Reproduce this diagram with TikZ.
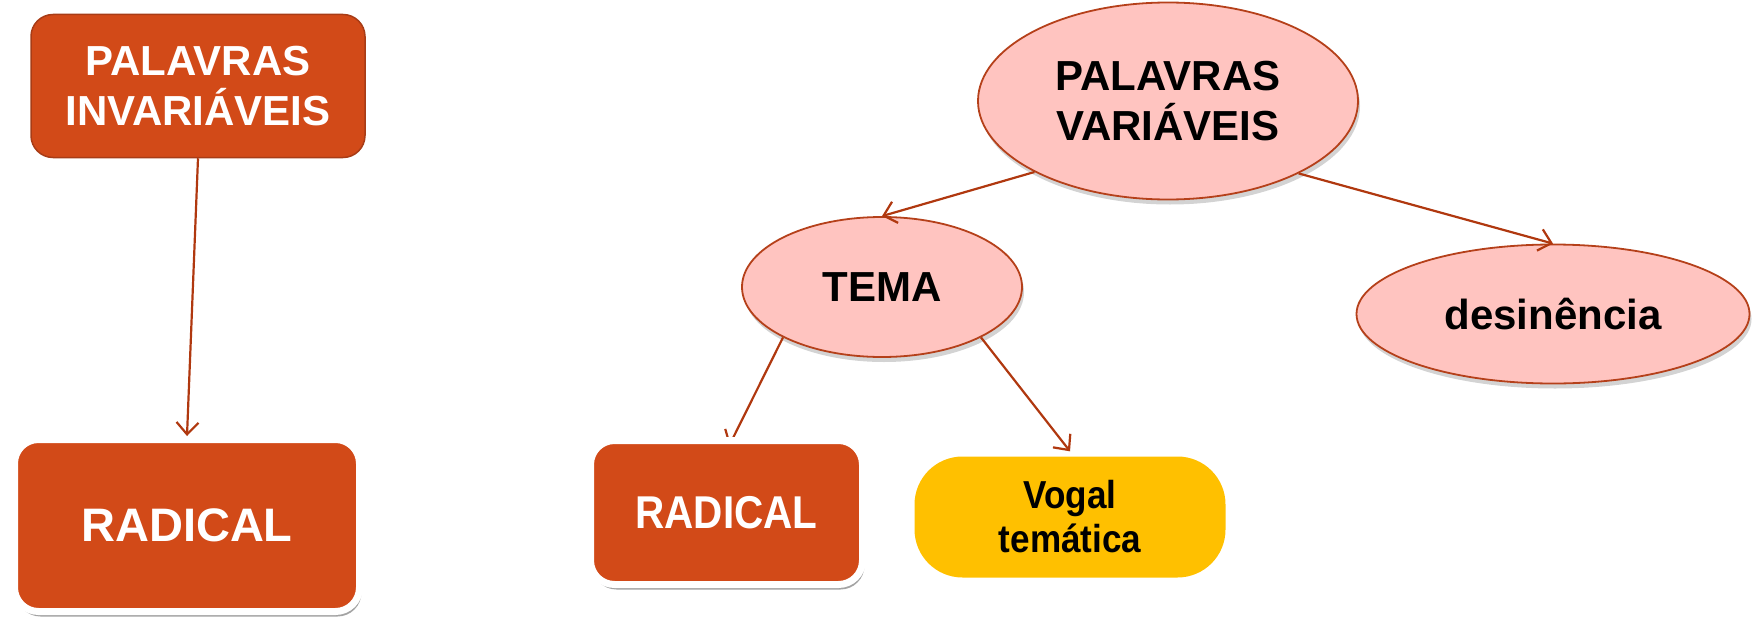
\documentclass[tikz,border=0pt]{standalone}
\usepackage{fontspec}
\setmainfont{Liberation Sans}
\usetikzlibrary{shapes.geometric,arrows.meta,shadows}
\definecolor{boxorange}{HTML}{D24A18}
\definecolor{boxedge}{HTML}{A83C16}
\definecolor{linecol}{HTML}{B0380F}
\definecolor{pinkfill}{HTML}{FFC4C0}
\definecolor{pinkedge}{HTML}{B5401A}
\definecolor{vogalcol}{HTML}{FFC000}
\tikzset{
  orangebox/.style={rectangle, rounded corners=22pt, fill=boxorange, draw=boxedge, line width=1.5pt, text=white, font=\bfseries\fontsize{42}{50}\selectfont, align=center, inner sep=0pt},
  whiteframed/.style={rectangle, rounded corners=24pt, fill=boxorange, draw=white, line width=7pt, text=white, inner sep=0pt,
    drop shadow={opacity=0.6, shadow xshift=2pt, shadow yshift=-5pt, fill=black!60}},
  pinkell/.style={ellipse, fill=pinkfill, draw=pinkedge, line width=1.8pt, inner sep=0pt, text=black, font=\bfseries\fontsize{42}{50}\selectfont, align=center,
    drop shadow={opacity=0.35, shadow xshift=2pt, shadow yshift=-5pt}},
  vogalbox/.style={rectangle, rounded corners=48pt, fill=vogalcol, inner sep=0pt, text=black, align=center},
  conn/.style={draw=linecol, line width=2.2pt, -{Straight Barb[length=12pt,width=22pt,line width=2.2pt]}},
}
\begin{document}
\begin{tikzpicture}[x=1pt,y=-1pt]
\useasboundingbox (0,0) rectangle (1760,618);
\node[orangebox, minimum width=334pt, minimum height=143pt] (pi) at (198,86) {PALAVRAS\\INVARIÁVEIS};
\node[pinkell, minimum width=380pt, minimum height=197pt] (pv) at (1168,101) {PALAVRAS\\VARIÁVEIS};
\node[pinkell, minimum width=280pt, minimum height=140pt] (tema) at (882,287) {TEMA};
\node[pinkell, minimum width=393pt, minimum height=139pt] (des) at (1553,314) {desinência};
\node[vogalbox, minimum width=311pt, minimum height=121pt] (vog) at (1070,517) {\scalebox{0.9}[1]{\parbox{220pt}{\centering\bfseries\fontsize{39}{44}\selectfont Vogal\\temática}}};
\coordinate (r2tip) at (729,446);
\draw[conn] (tema.207) -- (r2tip);
\node[whiteframed, minimum width=272pt, minimum height=144pt] (r2) at (726.5,512.5) {\scalebox{0.88}[1]{\bfseries\fontsize{46}{50}\selectfont RADICAL}};
\node[whiteframed, minimum width=345pt, minimum height=172pt] (r1) at (187,525.5) {\bfseries\fontsize{47}{50}\selectfont RADICAL};
\draw[conn] (pi.south) -- (r1.north);
\draw[conn] (pv.208) -- (tema.north);
\draw[conn] (pv.331) -- (des.north);
\draw[conn] (tema.333) -- ([yshift=5pt]vog.north);
\end{tikzpicture}
\end{document}
